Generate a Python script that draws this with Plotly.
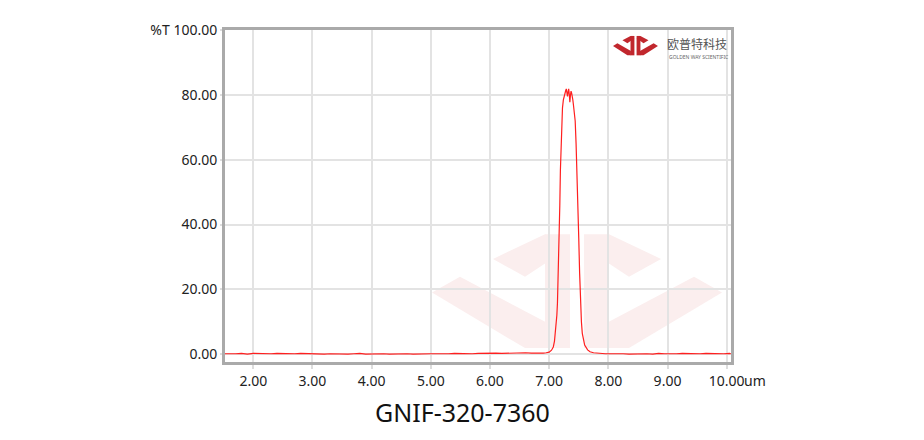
import plotly.graph_objects as go

# ---------------- data ----------------
wavelength = [
    1.52, 1.60, 1.70, 1.80, 1.90, 2.00, 2.10, 2.20, 2.30, 2.40, 2.50, 2.60, 2.70, 2.80, 2.90,
    3.00, 3.10, 3.20, 3.30, 3.40, 3.50, 3.60, 3.70, 3.80, 3.90, 4.00, 4.10, 4.20, 4.30, 4.40,
    4.50, 4.60, 4.70, 4.80, 4.90, 5.00, 5.10, 5.20, 5.30, 5.40, 5.50, 5.60, 5.70, 5.80, 5.90,
    6.00, 6.10, 6.20, 6.30, 6.40, 6.50, 6.60, 6.70, 6.80, 6.90, 6.95, 7.00, 7.04, 7.07, 7.09,
    7.11, 7.13, 7.14, 7.155, 7.17, 7.18, 7.19, 7.20, 7.21, 7.225, 7.24, 7.26, 7.28, 7.29, 7.30,
    7.31, 7.32, 7.33, 7.34, 7.35, 7.36, 7.37, 7.38, 7.39, 7.40, 7.41, 7.425, 7.44, 7.455, 7.47,
    7.485, 7.50, 7.515, 7.53, 7.545, 7.56, 7.58, 7.60, 7.65, 7.69, 7.75, 7.86, 7.95, 8.05, 8.15,
    8.25, 8.35, 8.45, 8.55, 8.65, 8.75, 8.85, 8.95, 9.05, 9.15, 9.25, 9.35, 9.45, 9.55, 9.65,
    9.75, 9.85, 9.95, 10.05, 10.07,
]
transmittance = [
    0.1, 0.2, 0.1, 0.2, 0.0, 0.2, 0.1, 0.2, 0.1, 0.2, 0.1, 0.0, 0.1, 0.2, 0.1,
    0.0, 0.1, 0.0, 0.1, 0.0, 0.1, 0.0, 0.1, 0.2, 0.0, 0.1, 0.0, 0.1, 0.0, 0.1,
    0.0, 0.1, 0.0, 0.1, 0.0, 0.1, 0.1, 0.0, 0.1, 0.2, 0.1, 0.2, 0.1, 0.2, 0.3,
    0.2, 0.3, 0.2, 0.3, 0.2, 0.3, 0.4, 0.3, 0.2, 0.3, 0.4, 0.6, 1.2, 2.2, 4.0,
    7.5, 12.0, 15.7, 25.0, 36.0, 46.0, 56.8, 65.0, 72.0, 76.0, 78.5, 80.5, 81.4, 81.9, 80.5,
    79.6, 81.0, 81.9, 80.2, 77.8, 80.0, 81.2, 80.6, 79.8, 78.5, 77.0, 75.0, 72.0, 65.0, 56.8,
    46.0, 36.0, 25.0, 15.7, 10.0, 6.4, 4.2, 2.8, 1.3, 0.7, 0.4, 0.2, 0.1, 0.1, 0.2,
    0.1, 0.0, 0.1, 0.2, 0.1, 0.0, 0.2, 0.1, 0.0, 0.1, 0.2, 0.1, 0.0, 0.1, 0.2,
    0.1, 0.0, 0.1, 0.2, 0.1,
]
x_tickvals = [2, 3, 4, 5, 6, 7, 8, 9, 10]
x_ticktext = ["2.00", "3.00", "4.00", "5.00", "6.00", "7.00", "8.00", "9.00", "10.00"]
y_tickvals = [0, 20, 40, 60, 80, 100]
y_ticktext = ["0.00", "20.00", "40.00", "60.00", "80.00", "%T 100.00"]
title_text = "GNIF-320-7360"
x_unit = "um"
brand_cn = "欧普特科技"
brand_en = "GOLDEN WAY SCIENTIFIC"

# ---------------- layout geometry (page pixels) ----------------
W, H = 924, 440
OFF = 8                      # default page body margin
L, R, T, B = 225, 193, 27, 78
PW, PH = W - L - R, H - T - B


def px(x):
    return (x - L) / PW


def py(y):
    return (H - B - y) / PH


fig = go.Figure()
fig.add_trace(go.Scatter(
    x=wavelength, y=transmittance, mode="lines",
    line=dict(color="#ff1f1f", width=1.2), hoverinfo="skip", showlegend=False,
))

# watermark / logo polygons (pixel coordinates of the big watermark)
polys = [
    [(493, 258), (545, 233), (570, 246), (525, 276)],
    [(661, 258), (609, 233), (584, 246), (629, 276)],
    [(432, 292), (460, 276), (548, 323), (548, 348), (525, 348)],
    [(722, 292), (694, 276), (606, 323), (606, 348), (629, 348)],
    [(545, 233), (570, 233), (570, 348), (545, 348)],
    [(584, 233), (609, 233), (609, 348), (584, 348)],
]


def path_from(points, fx, fy):
    return "M " + " L ".join(f"{px(fx(a)):.4f},{py(fy(b)):.4f}" for a, b in points) + " Z"


shapes = []
for p in polys:
    shapes.append(dict(type="path", xref="paper", yref="paper",
                       path=path_from(p, lambda a: a, lambda b: b),
                       fillcolor="#fbeeee", line=dict(width=0), layer="below"))

# logo white background
shapes.append(dict(type="rect", xref="paper", yref="paper",
                   x0=px(610), x1=px(729), y0=py(60), y1=py(29),
                   fillcolor="white", line=dict(width=0), layer="between"))
for p in polys:
    shapes.append(dict(type="path", xref="paper", yref="paper",
                       path=path_from(p, lambda a: 613 + (a - 432) * 0.155,
                                      lambda b: 33 + (b - 233) * 0.17),
                       fillcolor="#c1272d", line=dict(width=0), layer="between"))

annotations = [
    dict(text=title_text, xref="paper", yref="paper", x=px(462), y=py(412),
         xanchor="center", yanchor="middle", showarrow=False,
         font=dict(family="Noto Sans", size=25, color="#111111")),
    dict(text=x_unit, xref="paper", yref="paper", x=px(743), y=py(381),
         xanchor="left", yanchor="middle", showarrow=False, borderpad=0,
         font=dict(family="Noto Sans", size=14, color="#222222")),
    dict(text=brand_cn, xref="paper", yref="paper", x=px(665), y=py(41),
         xanchor="left", yanchor="middle", showarrow=False,
         font=dict(family="Noto Sans CJK SC", size=12, color="#555555")),
    dict(text=brand_en, xref="paper", yref="paper", x=px(667), y=py(54),
         xanchor="left", yanchor="middle", showarrow=False,
         font=dict(family="Noto Sans", size=5, color="#666666")),
]

tickfont = dict(family="Noto Sans", size=14, color="#222222")
axis_common = dict(
    showline=True, mirror=True, linecolor="#aaaaaa", linewidth=3,
    showgrid=True, gridcolor="#e3e3e3", gridwidth=2, zeroline=False,
    ticks="outside", tickwidth=2, tickcolor="#dddddd", tickfont=tickfont,
)

fig.update_layout(
    width=W, height=H,
    margin=dict(l=L - OFF, r=R + OFF, t=T - OFF, b=B + OFF, pad=0),
    paper_bgcolor="white", plot_bgcolor="white",
    xaxis=dict(range=[1.522, 10.073], tickmode="array", tickvals=x_tickvals,
               ticktext=x_ticktext, ticklen=4, **axis_common),
    yaxis=dict(range=[-2.45, 100.1], tickmode="array", tickvals=y_tickvals,
               ticktext=y_ticktext, ticklen=2, **axis_common),
    shapes=shapes, annotations=annotations,
)

fig.write_html("out.html")
